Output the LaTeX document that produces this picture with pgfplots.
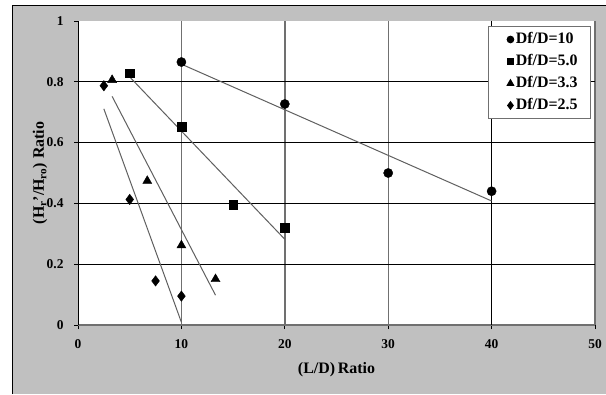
\documentclass[border=0pt]{standalone}
\usepackage{fontspec}
\setmainfont{Liberation Serif}
\usepackage{pgfplots}
\pgfplotsset{compat=1.18}
\definecolor{bggray}{RGB}{192,192,192}
\definecolor{gridgray}{RGB}{112,112,112}
\definecolor{fitgray}{RGB}{96,96,96}

\begin{document}
\begin{tikzpicture}[x=1bp,y=1bp]
\useasboundingbox (0,0) rectangle (606,394);
\fill[white] (0,0) rectangle (606,394);
\fill[bggray] (12,0) rectangle (606,388);
\draw[black, line width=1bp] (12,0) -- (12,388) -- (606,388);
\begin{axis}[
  at={(78bp,69bp)}, anchor=south west,
  scale only axis, width=517bp, height=304bp,
  xmin=0, xmax=50, ymin=0, ymax=1,
  xtick={0,10,...,50}, ytick={0,0.2,...,1},
  axis x line*=bottom, axis y line*=left,
  x axis line style={gridgray, line width=1.8bp, -},
  y axis line style={black, line width=1bp, -},
  axis background/.style={fill=white},
  tick align=outside, major tick length=4bp,
  tick style={black, line width=0.8bp},
  /pgf/number format/assume math mode=true,
  /pgf/number format/fixed,
  ticklabel style={font=\fontsize{13.5}{15}\selectfont\bfseries},
  xticklabel style={yshift=-7bp},
  yticklabel style={xshift=-7bp},
  xlabel={(L/D)\,Ratio},
  ylabel={(H\textsubscript{r}'/H\textsubscript{ro}) Ratio},
  label style={font=\fontsize{16}{18}\selectfont\bfseries},
  xlabel style={at={(axis description cs:0.5,-0.148)}, anchor=center},
  ylabel style={at={(axis description cs:-0.0735,0.5)}, anchor=center},
  legend style={at={(rel axis cs:0.9923,0.9836)}, anchor=north east,
    draw=gridgray, line width=1bp, fill=white,
    font=\fontsize{16}{18}\selectfont\bfseries,
    inner xsep=11bp, inner ysep=2bp, row sep=0bp,
    nodes={text height=12bp, text depth=4bp, inner ysep=3bp, inner xsep=2bp}},
  legend image code/.code={%
    \path[draw=none, fill=none] (0bp,0bp) -- (14bp,0bp);
    \draw[#1, mark options={scale=0.72}] plot coordinates {(11bp,0bp)};},
  legend cell align=left,
  clip=false,
]
% grid
\draw[gridgray, line width=1.4bp] (axis cs:10,0) -- (axis cs:10,1);
\draw[gridgray, line width=1.4bp] (axis cs:20,0) -- (axis cs:20,1);
\draw[gridgray, line width=1.4bp] (axis cs:30,0) -- (axis cs:30,1);
\draw[gridgray, line width=1.4bp] (axis cs:50,0) -- (axis cs:50,1);
\draw[black, line width=0.9bp] (axis cs:40,0) -- (axis cs:40,1);
\draw[black, line width=0.9bp] (axis cs:0,0.2) -- (axis cs:50,0.2);
\draw[black, line width=0.9bp] (axis cs:0,0.4) -- (axis cs:50,0.4);
\draw[black, line width=0.9bp] (axis cs:0,0.6) -- (axis cs:50,0.6);
\draw[black, line width=0.9bp] (axis cs:0,0.8) -- (axis cs:50,0.8);

% linear trend lines
\addplot[fitgray, line width=1bp, forget plot] coordinates {(10,0.858) (40,0.408)};
\addplot[fitgray, line width=1bp, forget plot] coordinates {(5,0.816) (20,0.282)};
\addplot[fitgray, line width=1bp, forget plot] coordinates {(3.3,0.752) (13.3,0.098)};
\addplot[fitgray, line width=1bp, forget plot] coordinates {(2.5,0.711) (10,0.009)};

% measurements
\addplot[only marks, mark=*, mark size=4.6bp, black] coordinates {(10,0.865) (20,0.727) (30,0.50) (40,0.44)};
\addlegendentry{Df/D=10}
\addplot[only marks, mark=square*, mark size=4.4bp, black] coordinates {(5,0.828) (10,0.652) (15,0.395) (20,0.32)};
\addlegendentry{Df/D=5.0}
\addplot[only marks, mark=triangle*, mark size=5.2bp, black] coordinates {(3.3,0.806) (6.7,0.474) (10,0.262) (13.3,0.151)};
\addlegendentry{Df/D=3.3}
\addplot[only marks, mark=diamond*, mark size=5.2bp, black] coordinates {(2.5,0.787) (5,0.413) (7.5,0.145) (10,0.095)};
\addlegendentry{Df/D=2.5}
\end{axis}
\end{tikzpicture}
\end{document}
